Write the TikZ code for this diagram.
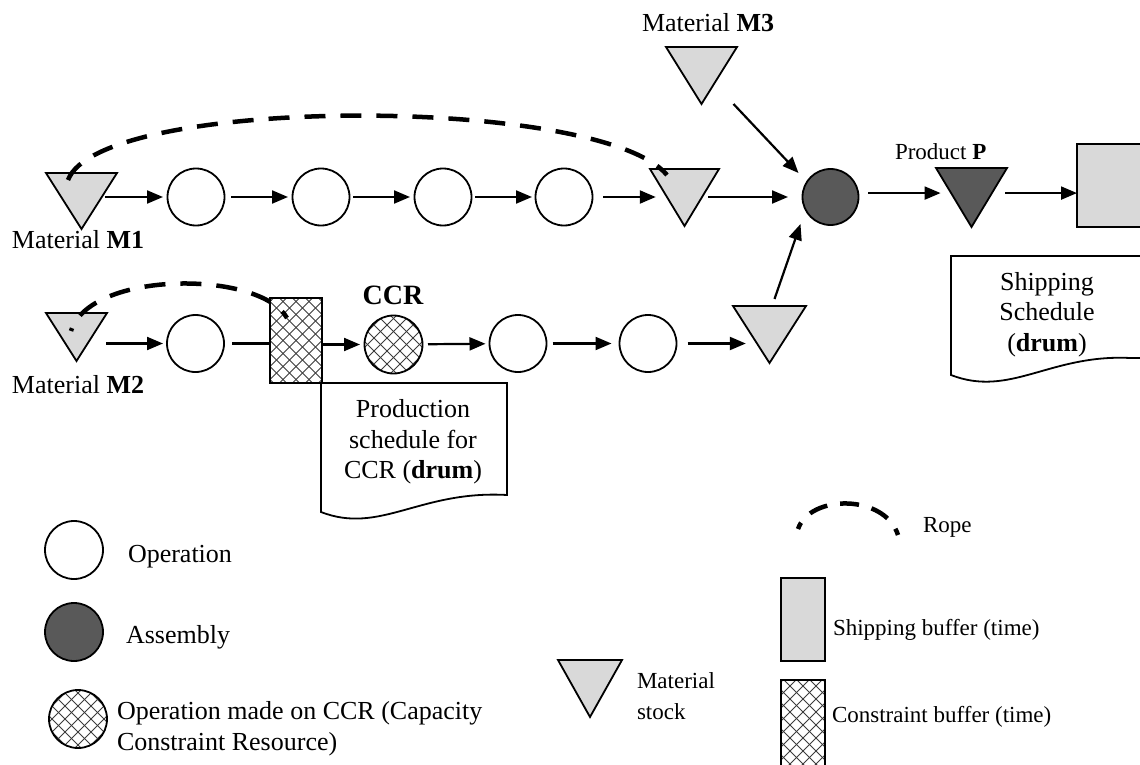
\documentclass[tikz,border=0pt]{standalone}
\usepackage{fontspec}
\setmainfont{Liberation Serif}
\usetikzlibrary{shapes.geometric,arrows.meta,calc}
\definecolor{lgray}{RGB}{217,217,217}
\definecolor{dgray}{RGB}{89,89,89}
\definecolor{hatchcol}{RGB}{60,60,60}
\newcommand\txtL{\fontsize{26}{30.5}\selectfont}
\newcommand\txtS{\fontsize{23}{31}\selectfont}
\newcommand\txtC{\fontsize{28}{32}\selectfont}

\begin{document}
\begin{tikzpicture}[x=1pt,y=-1pt,
  every node/.style={inner sep=0pt, outer sep=0pt},
  xhatch/.style={path picture={
    \foreach \k in {-14,...,14}{
      \draw[hatchcol, line width=1pt]
        ([xshift=\k*13pt-70pt, yshift=-70pt]path picture bounding box.center) -- ++(140pt,140pt);
      \draw[hatchcol, line width=1pt]
        ([xshift=\k*13pt-70pt, yshift=70pt]path picture bounding box.center) -- ++(140pt,-140pt);
    }}},
  op/.style={circle, draw, line width=1.8pt, minimum size=57pt, fill=white},
  asm/.style={op, fill=dgray},
  ccrop/.style={op, xhatch},
  tri/.style 2 args={isosceles triangle, isosceles triangle stretches,
    shape border rotate=-90, draw, line width=1.8pt, fill=lgray,
    minimum width=#1, minimum height=#2, anchor=apex},
  sbuf/.style={rectangle, draw, line width=1.8pt, fill=lgray},
  cbuf/.style={rectangle, draw, line width=1.8pt, fill=white, xhatch},
  doc/.style={draw, line width=1.8pt, fill=white},
  arr/.style={line width=2.2pt, -{Triangle[length=16pt,width=13pt]}},
  link/.style={line width=2.2pt},
  rope/.style={line width=4.5pt, dash pattern=on 21pt off 15pt},
  lbl/.style={font=\txtL},
  leg/.style={font=\txtS}
]
\useasboundingbox (0,0) rectangle (1140,765);
\clip (0,0) rectangle (1140,765);

% schedules (drums)
\draw[doc] (321,383) -- (507,383) -- (507,495)
  .. controls (420,490) and (380,535) .. (321,512) -- cycle;
\draw[doc] (951,256) -- (1160,256) -- (1160,358) -- (1130,358)
  .. controls (1050,354) and (1010,398) .. (951,375) -- cycle;
\node[lbl, align=center] (psched) at (413,442) {Production\\schedule for\\CCR (\textbf{drum})};
\node[lbl, align=center] (ssched) at (1047,314.5) {Shipping\\Schedule\\(\textbf{drum})};

% upper line: material M1 to assembly
\node[tri={71pt}{56pt}] (m1) at (81.5,229) {};
\node[op] (c1) at (196,197) {};
\node[op] (c2) at (321,197) {};
\node[op] (c3) at (443,197) {};
\node[op] (c4) at (564,197) {};
\node[tri={69pt}{57pt}] (t1) at (684.5,226) {};
\node[tri={71pt}{57pt}] (m3) at (701.5,104) {};
\node[asm, minimum size=56pt] (a) at (830.5,197) {};
\node[tri={71pt}{59pt}, fill=dgray] (p) at (971.5,227) {};
\node[sbuf, minimum width=83pt, minimum height=83pt] (sb) at (1118.5,185.5) {};

% lower line: material M2 through the CCR
\node[tri={61pt}{48pt}] (m2) at (76.5,361) {};
\node[op] (c5) at (195.5,343.5) {};
\node[cbuf, minimum width=52pt, minimum height=85pt] (cb) at (296,340.5) {};
\node[ccrop, minimum size=58pt] (ccr) at (393.5,344.5) {};
\node[op] (c6) at (518,343.5) {};
\node[op] (c7) at (648,343.5) {};
\node[tri={73pt}{57pt}] (t2) at (769.5,363) {};

% labels
\node[lbl, anchor=base west] (lm1) at (12,248) {Material \textbf{M1}};
\node[lbl, anchor=base west] (lm2) at (12,393) {Material \textbf{M2}};
\node[lbl, anchor=base west] (lm3) at (642,32) {Material \textbf{M3}};
\node[leg, anchor=base west] (lp) at (895,159) {Product \textbf{P}};
\node[font=\txtC\bfseries, anchor=base] (lccr) at (393,304) {CCR};

% flow
\draw[arr, shorten >=4.5pt] (m1.east |- c1) -- (c1);
\draw[arr, shorten <=6.5pt, shorten >=4.5pt] (c1) -- (c2);
\draw[arr, shorten <=3.5pt, shorten >=4.5pt] (c2) -- (c3);
\draw[arr, shorten <=3.5pt, shorten >=3.5pt] (c3) -- (c4);
\draw[arr, shorten <=10.5pt, shorten >=6pt] (c4) -- (t1.west |- c4);
\draw[arr, shorten <=1pt, shorten >=14.5pt] (t1.east |- a) -- (a);
\draw[arr, shorten <=9.5pt, shorten >=7.5pt] ([yshift=-5pt]a.east |- p) -- ([yshift=-5pt]p.west);
\draw[arr, shorten <=10.5pt] ([yshift=-5pt]p.east) -- ([yshift=-5pt]sb.west |- p);
\draw[arr] ([xshift=32pt]m3.apex) -- ([xshift=-32pt,yshift=24pt]a.center);

\draw[arr, shorten <=10pt, shorten >=4pt] (m2.east |- c5) -- (c5);
\draw[link, shorten <=8pt] (c5) -- (cb.west |- c5);
\draw[arr, shorten >=4.5pt] (cb.east |- ccr) -- (ccr);
\draw[arr, shorten <=5.5pt, shorten >=4pt] (ccr) -- (c6);
\draw[arr, shorten <=6pt, shorten >=8pt] (c6) -- (c7);
\draw[arr, shorten <=11pt] (c7) -- (t2.west |- c7);
\draw[arr] ([xshift=5pt,yshift=7pt]t2.north) -- ([xshift=-30pt,yshift=-27pt]a.center);

% ropes
\coordinate (r1s) at (68,180);
\coordinate (r1e) at (667,175);
\draw[rope] (r1s) .. controls (100,95) and (600,95) .. (r1e);
\coordinate (r2s) at (71,331);
\coordinate (r2e) at (287,318);
\draw[rope, dash phase=18pt] (r2s) .. controls (90,270) and (260,270) .. (r2e);

% legend
\node[op, minimum size=58pt] (kop) at (74,550) {};
\node[lbl, anchor=base west] (kopt) at (128,562) {Operation};
\node[asm, minimum size=58pt] (kasm) at (74,632) {};
\node[lbl, anchor=base west] (kasmt) at (126,643) {Assembly};
\node[ccrop, minimum size=58pt] (kccr) at (78,719) {};
\node[lbl, align=left, anchor=west] (kccrt) at (117,728.5) {Operation made on CCR (Capacity\\Constraint Resource)};

\node[tri={64pt}{57pt}] (kst) at (590,717) {};
\node[leg, align=left, anchor=west] (kstt) at (637,696) {Material\\stock};

\coordinate (krs) at (798,529);
\coordinate (kre) at (898,535);
\draw[rope, dash pattern=on 19pt off 13pt, dash phase=12pt] (krs) .. controls (810,494) and (885,494) .. (kre);
\node[leg, anchor=base west] (kropet) at (923,532) {Rope};

\node[sbuf, minimum width=44pt, minimum height=83pt] (ksb) at (803,619.5) {};
\node[leg, anchor=base west] (ksbt) at (833,635) {Shipping buffer (time)};
\node[cbuf, minimum width=44pt, minimum height=90pt] (kcb) at (803,725) {};
\node[leg, anchor=base west] (kcbt) at (832,722) {Constraint buffer (time)};
\end{tikzpicture}
\end{document}
